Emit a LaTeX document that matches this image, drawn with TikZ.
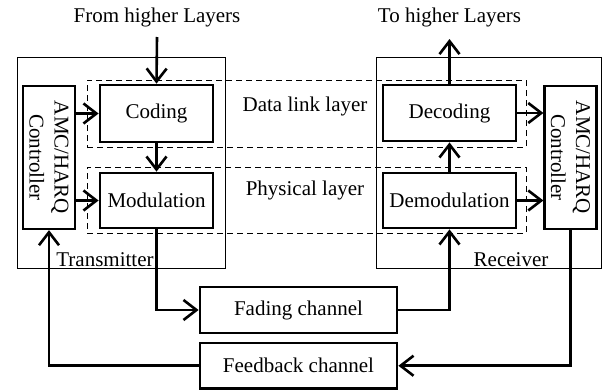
\documentclass[tikz,border=0pt]{standalone}
\usepackage{fontspec}
\setmainfont{Liberation Serif}
\usetikzlibrary{arrows.meta}
\begin{document}
\begin{tikzpicture}[x=1pt,y=-1pt, font=\fontsize{21}{25}\selectfont,
 blk/.style={draw, line width=2.8pt, inner sep=0pt},
 ctl/.style={draw, line width=2.2pt, inner sep=0pt, minimum width=52pt, minimum height=143pt},
 outer/.style={draw, line width=1pt, inner sep=0pt},
 lay/.style={draw, line width=1pt, dash pattern=on 6pt off 4pt, inner sep=0pt},
 arr/.style={line width=2.6pt, -{Straight Barb[length=13pt,width=20pt,line width=2.6pt]}},
 txt/.style={inner sep=0pt}]
\useasboundingbox (0,0) rectangle (608,391);
% containers
\node[outer, minimum width=208pt, minimum height=211pt] (tx) at (121,162.5) {};
\node[outer, minimum width=225pt, minimum height=211pt] (rx) at (488.5,162.5) {};
\node[lay, minimum width=439pt, minimum height=67pt] (dll) at (306.5,113.5) {};
\node[lay, minimum width=439pt, minimum height=66pt] (phy) at (306.5,200) {};
% blocks
\node[blk, minimum width=113pt, minimum height=57pt] (cod) at (156.5,113.5) {Coding};
\node[blk, minimum width=113pt, minimum height=55pt] (mod) at (156.5,200.5) {Modulation};
\node[blk, minimum width=133pt, minimum height=56pt] (dec) at (449.5,113) {Decoding};
\node[blk, minimum width=133pt, minimum height=55pt] (dem) at (449.5,200.5) {Demodulation};
\node[ctl] (amcL) at (49,157.5) {};
\node[ctl] (amcR) at (570.5,157.5) {};
\node[txt, rotate=-90, align=center] (amcLt) at (amcL) {AMC/HARQ\\Controller};
\node[txt, rotate=-90, align=center] (amcRt) at (amcR) {AMC/HARQ\\Controller};
\node[blk, minimum width=197pt, minimum height=46pt] (fad) at (298.5,310) {Fading channel};
\node[blk, minimum width=197pt, minimum height=45.5pt] (fb) at (298.5,365.75) {Feedback channel};
% labels
\node[txt] (from) at (157,17) {From higher Layers};
\node[txt] (to) at (449.5,17) {To higher Layers};
\node[txt] (dlt) at (305,106) {Data link layer};
\node[txt] (pht) at (305,190) {Physical layer};
\node[txt] (txt) at (105,260) {Transmitter};
\node[txt] (rxt) at (511,260) {Receiver};
\coordinate (inp) at (157,37);
\coordinate (outp) at (449.5,39);
% connectors
\draw[arr] (inp) -- (cod.north);
\draw[arr] (cod) -- (mod);
\draw[arr] (amcL.east |- cod) -- (cod.west);
\draw[arr] (amcL.east |- mod) -- (mod.west);
\draw[arr] (mod.south) |- (fad.west);
\draw[arr] (fad.east) -| (dem.south);
\draw[arr] (dem) -- (dec);
\draw[arr] (dec.north) -- (outp);
\draw[arr] (dec.east) -- (amcR.west |- dec);
\draw[arr] (dem.east) -- (amcR.west |- dem);
\draw[arr] (amcR.south) |- (fb.east);
\draw[arr] (fb.west) -| (amcL.south);
\end{tikzpicture}
\end{document}
